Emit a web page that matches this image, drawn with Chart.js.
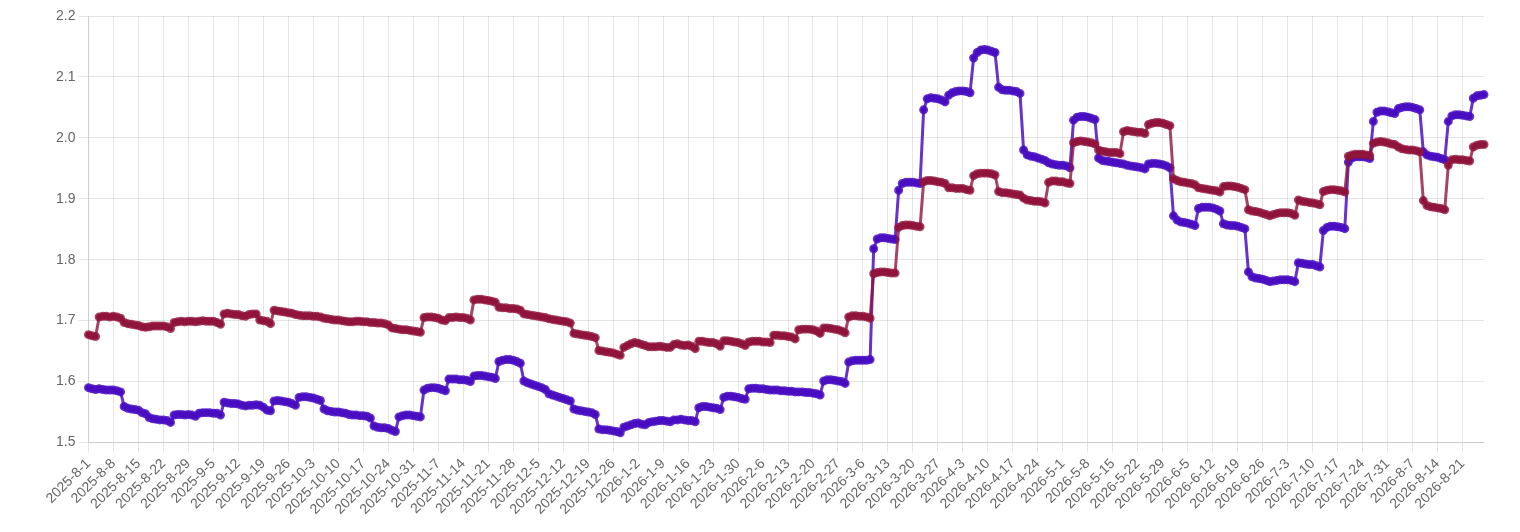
<!DOCTYPE html>
<html>
<head>
<meta charset="utf-8">
<script src="https://cdn.jsdelivr.net/npm/chart.js@4.4.1/dist/chart.umd.min.js"></script>
<style>
  html, body { margin: 0; padding: 0; background: #fff; }
  #wrap { width: 1520px; height: 532px; }
</style>
</head>
<body>
<div id="wrap"><canvas id="chart" width="1520" height="532"></canvas></div>
<script>
// daily categories 2025-8-1 .. 2026-8-27
const startDate = [2025, 8, 1];
const dayCount = 392;
const labels = [];
for (let i = 0; i < dayCount; i++) {
  const d = new Date(startDate[0], startDate[1] - 1, startDate[2] + i);
  labels.push(d.getFullYear() + "-" + (d.getMonth() + 1) + "-" + d.getDate());
}

// one row per week (Mon..Sun), first row is the partial week
const serieRojo = [
  1.677,1.675,1.674,
  1.706,1.707,1.707,1.706,1.707,1.706,1.704,
  1.697,1.695,1.694,1.693,1.692,1.690,1.689,
  1.690,1.691,1.691,1.691,1.691,1.690,1.687,
  1.697,1.698,1.699,1.698,1.699,1.699,1.698,
  1.699,1.700,1.699,1.699,1.699,1.697,1.694,
  1.711,1.712,1.711,1.710,1.710,1.708,1.707,
  1.710,1.711,1.711,1.701,1.700,1.699,1.695,
  1.717,1.716,1.715,1.714,1.713,1.712,1.710,
  1.709,1.708,1.708,1.708,1.707,1.707,1.706,
  1.704,1.703,1.702,1.701,1.701,1.700,1.699,
  1.698,1.698,1.699,1.699,1.698,1.698,1.697,
  1.697,1.696,1.696,1.695,1.693,1.688,1.687,
  1.686,1.685,1.685,1.684,1.683,1.682,1.681,
  1.705,1.706,1.706,1.705,1.704,1.701,1.700,
  1.705,1.705,1.706,1.705,1.705,1.704,1.701,
  1.734,1.735,1.735,1.734,1.733,1.732,1.730,
  1.722,1.721,1.721,1.720,1.720,1.719,1.717,
  1.711,1.710,1.709,1.708,1.707,1.706,1.705,
  1.703,1.702,1.701,1.700,1.699,1.698,1.696,
  1.679,1.678,1.677,1.676,1.675,1.674,1.672,
  1.651,1.650,1.649,1.648,1.647,1.645,1.643,
  1.656,1.659,1.662,1.664,1.663,1.661,1.659,
  1.657,1.657,1.657,1.658,1.657,1.656,1.656,
  1.661,1.662,1.660,1.659,1.660,1.658,1.654,
  1.666,1.666,1.665,1.664,1.664,1.662,1.658,
  1.667,1.667,1.666,1.665,1.664,1.662,1.659,
  1.665,1.666,1.666,1.666,1.665,1.665,1.664,
  1.676,1.676,1.675,1.675,1.674,1.673,1.670,
  1.685,1.686,1.686,1.686,1.685,1.683,1.679,
  1.688,1.688,1.687,1.686,1.685,1.683,1.680,
  1.706,1.708,1.708,1.707,1.707,1.706,1.704,
  1.777,1.779,1.780,1.780,1.779,1.778,1.778,
  1.853,1.856,1.857,1.857,1.856,1.855,1.854,
  1.928,1.930,1.930,1.929,1.928,1.927,1.925,
  1.918,1.918,1.917,1.917,1.917,1.915,1.914,
  1.938,1.941,1.942,1.942,1.942,1.941,1.939,
  1.912,1.910,1.910,1.909,1.908,1.907,1.906,
  1.901,1.898,1.897,1.896,1.896,1.895,1.893,
  1.927,1.929,1.929,1.928,1.928,1.926,1.925,
  1.992,1.994,1.995,1.994,1.993,1.992,1.990,
  1.980,1.978,1.977,1.976,1.976,1.976,1.974,
  2.010,2.012,2.011,2.010,2.009,2.009,2.007,
  2.022,2.024,2.025,2.025,2.024,2.022,2.020,
  1.933,1.930,1.928,1.927,1.926,1.925,1.923,
  1.918,1.917,1.916,1.915,1.914,1.913,1.911,
  1.920,1.921,1.921,1.920,1.919,1.917,1.915,
  1.882,1.880,1.879,1.878,1.876,1.874,1.872,
  1.874,1.876,1.877,1.877,1.877,1.876,1.873,
  1.898,1.896,1.895,1.894,1.893,1.892,1.890,
  1.912,1.914,1.915,1.915,1.914,1.913,1.911,
  1.970,1.972,1.973,1.973,1.973,1.972,1.971,
  1.991,1.993,1.994,1.993,1.992,1.990,1.989,
  1.985,1.982,1.981,1.980,1.980,1.979,1.977,
  1.897,1.889,1.887,1.886,1.885,1.884,1.882,
  1.955,1.964,1.965,1.964,1.964,1.963,1.962,
  1.985,1.988,1.989,1.989
];

const serieAzul = [
  1.590,1.588,1.587,
  1.588,1.587,1.586,1.586,1.586,1.585,1.583,
  1.559,1.556,1.555,1.554,1.553,1.549,1.547,
  1.541,1.539,1.538,1.537,1.537,1.536,1.533,
  1.545,1.546,1.546,1.545,1.546,1.545,1.543,
  1.548,1.549,1.549,1.549,1.548,1.548,1.545,
  1.566,1.565,1.564,1.564,1.563,1.561,1.560,
  1.561,1.561,1.562,1.561,1.558,1.553,1.552,
  1.568,1.569,1.568,1.567,1.566,1.564,1.561,
  1.574,1.575,1.575,1.574,1.573,1.571,1.569,
  1.555,1.552,1.551,1.550,1.550,1.549,1.548,
  1.546,1.545,1.545,1.544,1.544,1.543,1.540,
  1.527,1.525,1.524,1.524,1.523,1.520,1.518,
  1.542,1.544,1.545,1.545,1.544,1.543,1.542,
  1.586,1.589,1.590,1.590,1.589,1.587,1.585,
  1.604,1.604,1.604,1.603,1.603,1.602,1.600,
  1.609,1.610,1.610,1.609,1.608,1.607,1.605,
  1.633,1.635,1.636,1.636,1.635,1.633,1.630,
  1.601,1.598,1.596,1.594,1.592,1.590,1.587,
  1.580,1.578,1.576,1.574,1.572,1.570,1.568,
  1.555,1.553,1.552,1.551,1.550,1.549,1.546,
  1.522,1.521,1.521,1.520,1.519,1.518,1.516,
  1.525,1.527,1.529,1.531,1.532,1.530,1.529,
  1.533,1.534,1.535,1.536,1.536,1.535,1.534,
  1.537,1.537,1.538,1.537,1.536,1.536,1.534,
  1.557,1.559,1.559,1.558,1.557,1.556,1.554,
  1.574,1.576,1.576,1.575,1.574,1.572,1.571,
  1.588,1.589,1.589,1.588,1.588,1.587,1.586,
  1.586,1.586,1.585,1.585,1.584,1.584,1.583,
  1.583,1.583,1.582,1.582,1.581,1.580,1.578,
  1.601,1.603,1.603,1.602,1.601,1.600,1.597,
  1.632,1.634,1.635,1.635,1.635,1.635,1.636,
  1.818,1.834,1.836,1.836,1.835,1.834,1.833,
  1.914,1.925,1.927,1.927,1.927,1.926,1.925,
  2.046,2.064,2.066,2.065,2.064,2.062,2.059,
  2.070,2.074,2.076,2.077,2.077,2.076,2.074,
  2.131,2.140,2.144,2.145,2.144,2.142,2.140,
  2.083,2.079,2.078,2.078,2.077,2.076,2.073,
  1.980,1.972,1.970,1.969,1.967,1.965,1.963,
  1.959,1.957,1.956,1.955,1.955,1.954,1.951,
  2.029,2.034,2.035,2.035,2.034,2.032,2.030,
  1.967,1.963,1.962,1.961,1.960,1.959,1.958,
  1.957,1.955,1.954,1.953,1.952,1.951,1.949,
  1.957,1.958,1.958,1.957,1.956,1.954,1.951,
  1.872,1.865,1.862,1.861,1.860,1.858,1.856,
  1.884,1.886,1.886,1.886,1.885,1.883,1.880,
  1.859,1.857,1.856,1.856,1.855,1.853,1.851,
  1.780,1.772,1.770,1.769,1.768,1.766,1.764,
  1.765,1.766,1.767,1.767,1.767,1.766,1.764,
  1.795,1.794,1.793,1.792,1.792,1.790,1.788,
  1.848,1.853,1.855,1.855,1.854,1.853,1.851,
  1.960,1.967,1.969,1.969,1.969,1.968,1.966,
  2.027,2.042,2.044,2.044,2.043,2.041,2.040,
  2.048,2.050,2.051,2.051,2.050,2.048,2.046,
  1.977,1.972,1.970,1.969,1.968,1.966,1.964,
  2.027,2.036,2.038,2.038,2.037,2.036,2.035,
  2.065,2.069,2.070,2.071
];

const yTicks = { min: 1.5, max: 2.2, step: 0.1 };
const labelEvery = 7;

Chart.defaults.font.family = "'Liberation Sans', Arial, sans-serif";
Chart.defaults.font.size = 14;
Chart.defaults.color = "#666";

new Chart(document.getElementById("chart"), {
  type: "line",
  data: {
    labels,
    datasets: [
      {
        data: serieRojo,
        borderColor: "rgba(145, 20, 60, 0.8)",
        backgroundColor: "rgb(140, 20, 58)",
        pointBackgroundColor: "rgb(140, 20, 58)",
        pointBorderColor: "rgba(145, 20, 60, 0.8)",
        borderWidth: 3,
        pointRadius: 3,
        tension: 0
      },
      {
        data: serieAzul,
        borderColor: "rgba(75, 15, 195, 0.85)",
        backgroundColor: "rgb(70, 10, 185)",
        pointBackgroundColor: "rgb(70, 10, 185)",
        pointBorderColor: "rgba(75, 15, 195, 0.85)",
        borderWidth: 3,
        pointRadius: 3,
        tension: 0
      }
    ]
  },
  options: {
    responsive: false,
    animation: false,
    devicePixelRatio: 1,
    layout: { padding: { top: 16, right: 36, left: 53, bottom: 11 } },
    plugins: { legend: { display: false }, tooltip: { enabled: false } },
    scales: {
      x: {
        grid: { tickLength: 10 },
        ticks: {
          autoSkip: false,
          minRotation: 45,
          maxRotation: 45,
          callback: function (value, index) {
            return index % labelEvery === 0 ? labels[index] : null;
          }
        }
      },
      y: {
        min: yTicks.min,
        max: yTicks.max,
        grid: { tickLength: 10 },
        ticks: {
          stepSize: yTicks.step,
          callback: function (value) { return value.toFixed(1); }
        }
      }
    }
  }
});
</script>
</body>
</html>
